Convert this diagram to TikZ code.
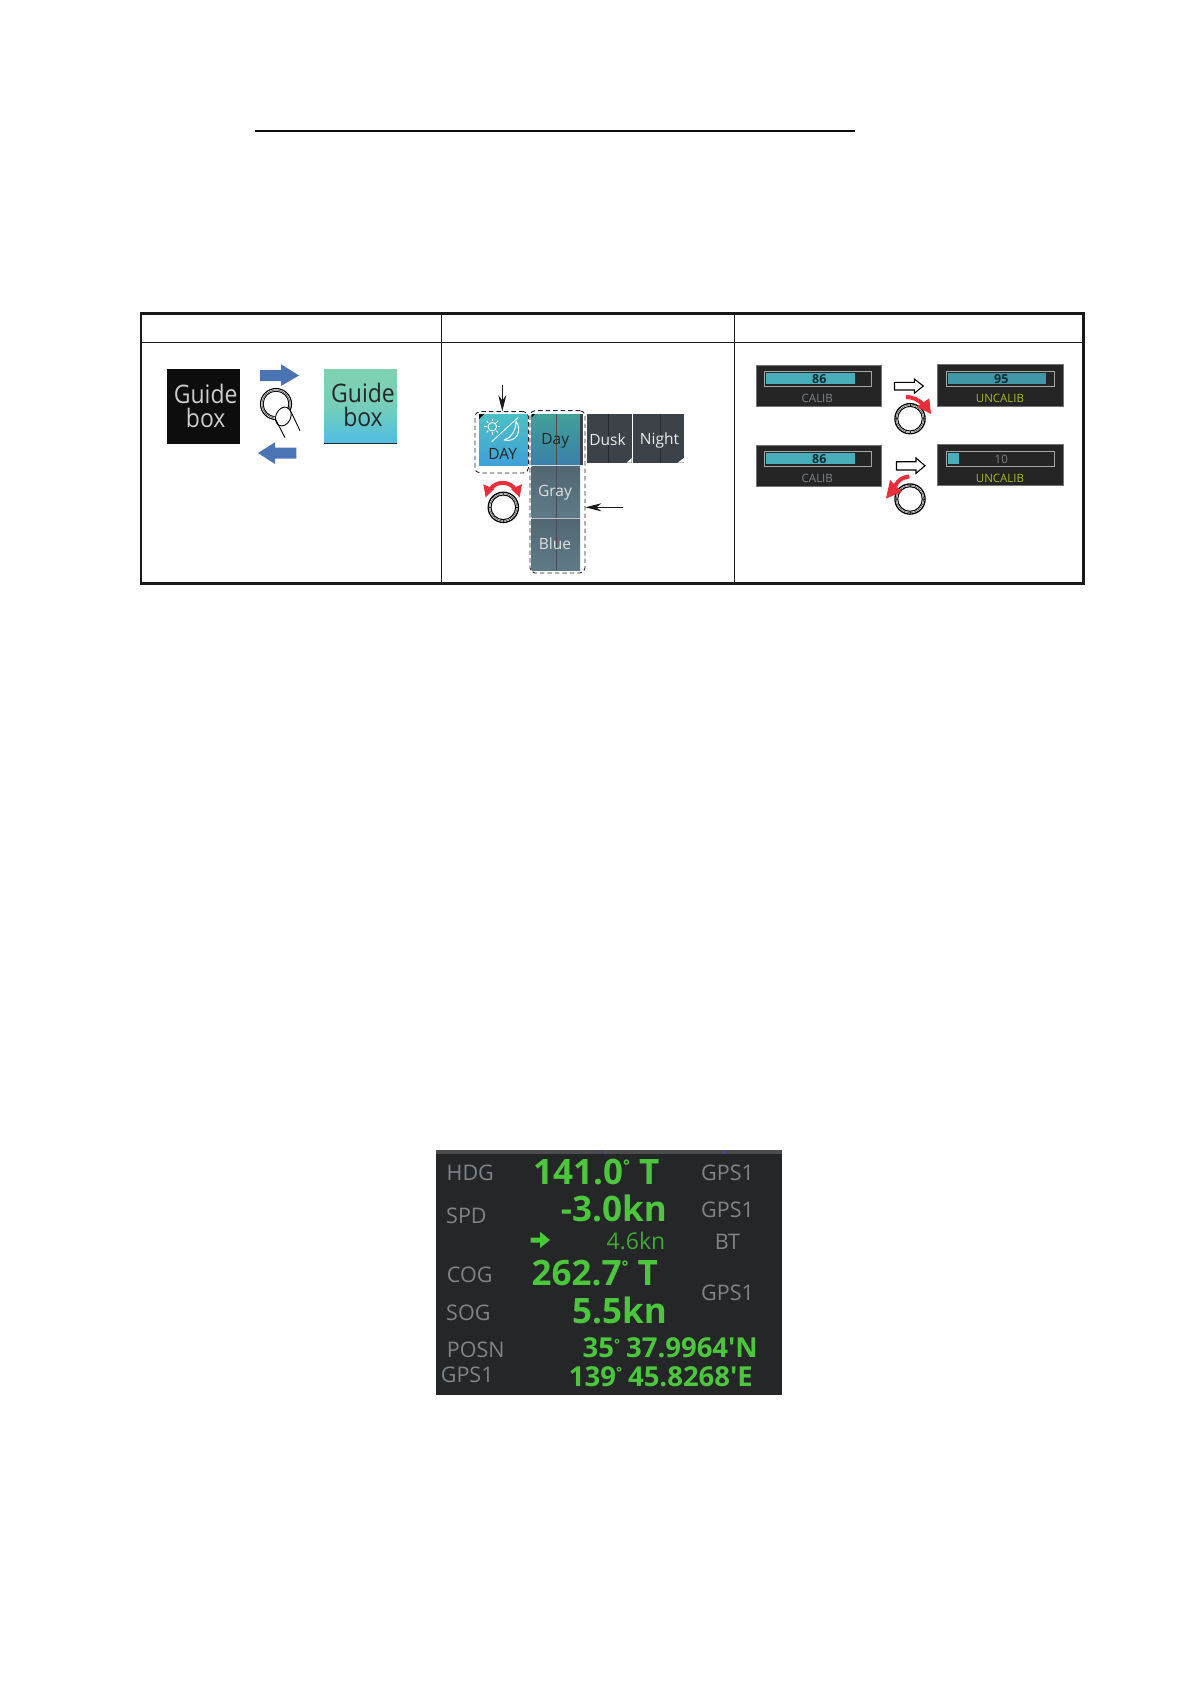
\documentclass[tikz,border=0pt]{standalone}
\usepackage{fontspec}
\setmainfont{Open Sans}
\usetikzlibrary{arrows.meta,calc}
\definecolor{panelbg}{HTML}{242628}
\definecolor{cellbg}{HTML}{252525}
\definecolor{barteal}{HTML}{48AEBC}
\definecolor{barteald}{HTML}{3F96A4}
\definecolor{ligreen}{HTML}{4CC63C}
\definecolor{ligray}{HTML}{7F8488}
\definecolor{uncal}{HTML}{A8B820}
\definecolor{knobred}{HTML}{E8303C}
\definecolor{bluearr}{HTML}{4A74B4}
\definecolor{tile}{HTML}{5F7A87}
\definecolor{tiledark}{HTML}{3C4248}
\newcommand{\pxf}[1]{\fontsize{#1}{#1}\selectfont}
\newcommand{\narrowed}[1]{\scalebox{.9}[1]{#1}}
\newcommand{\dial}[2]{%
  \fill[white] (#1,#2) circle (15.5);
  \draw[black,line width=1.3] (#1,#2) circle (15.1);
  \draw[black!65,line width=.6] (#1,#2) circle (13.6);
  \draw[black,line width=1] (#1,#2) circle (12.3);
  \foreach \a in {0,90,180,270}{\draw[black!80,line width=1] ($(#1,#2)+(\a:12.3)$) -- ($(#1,#2)+(\a:15)$);}
}
\tikzset{
  x=1pt,y=-1pt,
  guidetext/.style={inner sep=0,font=\pxf{25.5}},
  outer/.style={line width=2.7,black!90},
  gridline/.style={line width=1,black!90},
  dashbox/.style={draw=black!85,dashed,dash pattern=on 4.5pt off 3pt,line width=.9,rounded corners=5,inner sep=0},
  tiletext/.style={inner sep=0,font=\pxf{15.5}},
  thinarrow/.style={line width=1,black!90,-{Stealth[length=16pt,width=8pt]}},
  panel/.style={draw=black!55,line width=.6,fill=cellbg,inner sep=0},
  barframe/.style={draw=black!35,line width=.7,inner sep=0},
  calib/.style={inner sep=0,font=\pxf{11.5},text=ligray},
  uncalib/.style={inner sep=0,font=\pxf{11.5},text=uncal},
  barnum/.style={inner sep=0,font=\bfseries\pxf{12.5},text=black!75!barteal},
  hollow/.style={draw=black,line width=1.1,fill=white,line join=miter},
  lab/.style={inner sep=0,font=\pxf{21.5},text=ligray},
  big/.style={inner sep=0,font=\bfseries\pxf{35},text=ligreen},
  mid/.style={inner sep=0,font=\bfseries\pxf{27.5},text=ligreen},
  thinval/.style={inner sep=0,font=\pxf{23},text=ligreen!85!black},
}
\begin{document}
\begin{tikzpicture}
\useasboundingbox (0,0) rectangle (1190,1684);
\fill[white] (0,0) rectangle (1190,1684);
% top rule
\coordinate (ruleL) at (255,130.5);
\coordinate (ruleR) at (855,130.5);
\draw[line width=2,black!95] (ruleL) -- (ruleR);
% table
\draw[gridline] (441.5,313.5) -- (441.5,583.3);
\draw[gridline] (734.7,313.5) -- (734.7,583.3);
\draw[gridline] (141,342.3) -- (1083.3,342.3);
\draw[outer] (141,313.5) rectangle (1083.3,583.3);

% --- cell 1
\fill[black!95] (166.7,369) rectangle (240,444);
\node[guidetext,text=black!20] (g1a) at (205.7,394) {\narrowed{Guide}};
\node[guidetext,text=black!20] (g1b) at (205.7,418) {\narrowed{box}};
\shade[top color={rgb,255:red,128;green,210;blue,176},bottom color={rgb,255:red,80;green,190;blue,226},middle color={rgb,255:red,118;green,206;blue,186}] (324,369) rectangle (397,443);
\draw[line width=1,black!85] (324,443) -- (397,443);
\node[guidetext,text=black!85] (g2a) at (363,392.5) {\narrowed{Guide}};
\node[guidetext,text=black!85] (g2b) at (363,416.5) {\narrowed{box}};
\fill[bluearr] (260,370) -- (281,370) -- (281,364.3) -- (299,375.5) -- (281,386) -- (281,381) -- (260,381) -- cycle;
\fill[bluearr] (296.3,447.7) -- (275,447.7) -- (275,442.3) -- (258,453) -- (275,464) -- (275,458.7) -- (296.3,458.7) -- cycle;
% knob with finger
\draw[black,line width=1.1] (276,404) circle (15.5);
\draw[black!70,line width=.6] (276,404) circle (14);
\draw[black,line width=.9] (276,404) circle (12.8);
\fill[white] (283,417) ellipse (8.5 and 10);
\draw[black,line width=.9,rotate around={-25:(283.3,416.5)}] (283.3,416.5) ellipse (7.4 and 9.8);
\draw[black,line width=.9] (275.9,420) -- (285,437.7);
\draw[black,line width=.9] (291,411.7) -- (300,430.7);

% --- cell 2
\shade[top color={rgb,255:red,76;green,192;blue,196},bottom color={rgb,255:red,64;green,160;blue,216}] (479,414) rectangle (528,465.3);
\fill[black] (479,414) -- (484,414) -- (479,419) -- cycle;
\draw[white,line width=.8] (491.7,441.7) -- (518.3,417.3);
\draw[white,line width=.9] (492.3,426.7) circle (4.3);
\foreach \a in {0,45,...,315}{\draw[white,line width=.9] ($(492.3,426.7)+(\a:5.7)$) -- ($(492.3,426.7)+(\a:8)$);}
\draw[white,line width=.9,line join=round] (516,421) .. controls (523,431) and (516,443) .. (504,440) .. controls (511,438) and (516,431) .. (516,421) -- cycle;
\node[inner sep=0,font=\pxf{15.5},text=black!85] (daytxt) at (502.7,454) {DAY};

\shade[top color={rgb,255:red,64;green,160;blue,152},bottom color={rgb,255:red,58;green,128;blue,168}] (531.7,414) rectangle (580,465.3);
\fill[tiledark] (579.5,414) rectangle (582.7,465.3);
\fill[black] (531.7,414) -- (535,414) -- (531.7,417.5) -- cycle;
\shade[top color=tile!85!black,bottom color=tile] (531.7,466) rectangle (580,517.7);
\shade[top color=tile!85!black,bottom color=tile] (531.7,518.3) rectangle (580,570);
\draw[line width=.7,black!70] (556.3,414) -- (556.3,570);
\draw[line width=.7,black!15] (531.7,465.7) -- (580,465.7);
\draw[line width=.7,black!25] (531.7,518) -- (580,518);
\node[tiletext,text=black!85] (tday) at (555.3,441) {Day};
\node[tiletext,text=black!12] (tgray) at (555,493) {Gray};
\node[tiletext,text=black!12] (tblue) at (555,544) {Blue};
\fill[tiledark] (587.3,414) rectangle (631.7,462.7);
\fill[tiledark] (633.3,414) rectangle (684,462.7);
\draw[line width=.7,tiledark!65!black] (608.3,414) -- (608.3,462.7);
\draw[line width=.7,tiledark!65!black] (660,414) -- (660,462.7);
\fill[white] (631.7,458) -- (631.7,462.7) -- (626.5,462.7) -- cycle;
\fill[white] (684,458) -- (684,462.7) -- (677.5,462.7) -- cycle;
\node[tiletext,text=black!8] (tdusk) at (607.5,440) {Dusk};
\node[tiletext,text=black!8] (tnight) at (659.5,440) {Night};
\node[dashbox,minimum width=53.5,minimum height=61.3] (daybox) at (501.7,442.3) {};
\node[dashbox,minimum width=55,minimum height=162.3] (listbox) at (557.5,491.8) {};
\coordinate (daytail) at (502.3,385);
\coordinate (listtail) at (623,507.3);
\draw[thinarrow] (daytail) -- (daytail |- daybox.north);
\draw[thinarrow] (listtail) -- (listtail -| listbox.east);
\dial{503.3}{507.3}
\draw[knobred,line width=4] (490,490) .. controls (495,480.5) and (510.5,480.5) .. (515.5,490);
\fill[knobred] (483.3,484.3) -- (494.3,489) -- (485.7,497.3) -- cycle;
\fill[knobred] (522,484.3) -- (511,489) -- (519.7,497.3) -- cycle;

% --- cell 3
\node[panel,minimum width=125.7,minimum height=41.7] (p1) at (818.8,385.8) {};
\node[barframe,minimum width=107.7,minimum height=15] (f1) at (817.8,378.5) {};
\fill[barteal] (765.7,373) rectangle (855,384);
\node[barnum] (n1) at (819.3,379) {86};
\node[calib] (c1) at (817.3,398) {CALIB};

\node[panel,minimum width=125.7,minimum height=42.4] (p2) at (1000.5,385.5) {};
\node[barframe,minimum width=108,minimum height=15] (f2) at (1000,378.5) {};
\fill[barteald] (947.7,373) rectangle (1045.7,384);
\node[barnum] (n2) at (1001.3,379) {95};
\node[uncalib] (c2) at (1000,398) {UNCALIB};

\node[panel,minimum width=125.7,minimum height=41.7] (p3) at (818.8,465.8) {};
\node[barframe,minimum width=107.7,minimum height=15] (f3) at (817.8,458.5) {};
\fill[barteal] (765.7,453) rectangle (855,464);
\node[barnum] (n3) at (819.3,459) {86};
\node[calib] (c3) at (817.3,478) {CALIB};

\node[panel,minimum width=125.7,minimum height=41.4] (p4) at (1000.5,465) {};
\node[barframe,minimum width=108,minimum height=15] (f4) at (1000,458.5) {};
\fill[barteal] (947.7,453) rectangle (958.7,464);
\node[inner sep=0,font=\pxf{11.5},text=ligray] (n4) at (1001.3,459.3) {10};
\node[uncalib] (c4) at (1000,478) {UNCALIB};

\draw[hollow] (894.5,382.3) -- (914.3,382.3) -- (914.3,379) -- (923.3,386) -- (914.3,393.3) -- (914.3,390) -- (894.5,390) -- cycle;
\draw[hollow] (896.5,461.7) -- (916,461.7) -- (916,458) -- (925,465.7) -- (916,473.3) -- (916,470) -- (896.5,470) -- cycle;
\dial{910}{418.7}
\dial{910}{499}
\draw[knobred,line width=4] (906,397) .. controls (912,397) and (919,399.5) .. (923.5,405);
\fill[knobred] (916.7,406.7) -- (929.3,398.3) -- (931,414) -- cycle;
\draw[knobred,line width=4] (909.3,476.5) .. controls (903,477) and (898,480) .. (895,486);
\fill[knobred] (890,480) -- (901.7,491.7) -- (886,498.7) -- cycle;

% --- lower display
\fill[panelbg] (436,1150) rectangle (782.3,1395);
\fill[black!70] (436,1150) rectangle (782.3,1153.5);
\draw[line width=.8,blue!40!gray] (605,1150) -- (605,1153.5);
\draw[line width=.8,blue!40!gray] (724,1150) -- (724,1153.5);
\node[lab,anchor=west] (hdg) at (446.5,1173.3) {HDG};
\node[lab,anchor=west] (spd) at (446,1216) {SPD};
\node[lab,anchor=west] (cog) at (446.7,1275) {COG};
\node[lab,anchor=west] (sog) at (446,1313) {SOG};
\node[lab,anchor=west] (posn) at (446.7,1350) {POSN};
\node[lab,anchor=west] (gpsl) at (440.7,1375) {GPS1};
\node[lab] (g1) at (727.5,1173) {GPS1};
\node[lab] (g2) at (727.5,1210) {GPS1};
\node[lab] (bt) at (727.5,1241.7) {BT};
\node[lab] (g3) at (727.5,1293) {GPS1};
\node[big,anchor=base west] (v1) at (533,1184) {141.0\raisebox{.35em}{\pxf{16}°} T};
\node[big,anchor=base east] (v2) at (667,1221) {-3.0kn};
\node[big,anchor=base west] (v3) at (531.5,1285) {262.7\raisebox{.35em}{\pxf{16}°} T};
\node[big,anchor=base east] (v4) at (667,1323) {5.5kn};
\node[thinval,anchor=base east] (v5) at (665.5,1249.5) {4.6kn};
\node[mid,anchor=base east] (v6) at (758,1357.3) {35\raisebox{.3em}{\pxf{14}°}\kern6pt 37.9964\textquotesingle N};
\node[mid,anchor=base east] (v7) at (753,1386) {139\raisebox{.3em}{\pxf{14}°}\kern6pt 45.8268\textquotesingle E};
\fill[ligreen] (530.7,1237.5) -- (540,1237.5) -- (540,1231.7) -- (550,1240) -- (540,1248) -- (540,1242.5) -- (530.7,1242.5) -- cycle;
\end{tikzpicture}
\end{document}
